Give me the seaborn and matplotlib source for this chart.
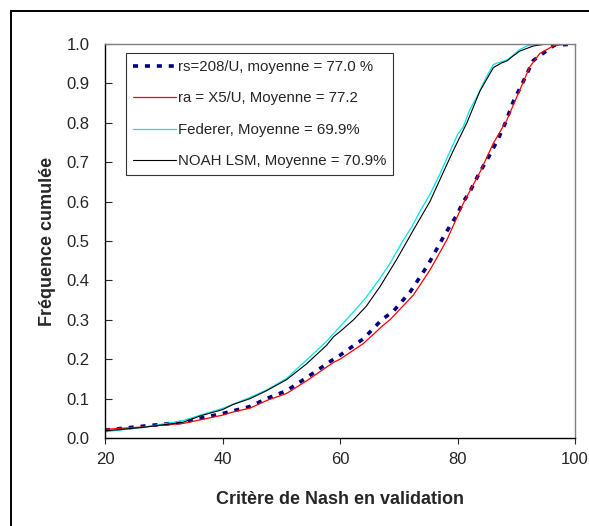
import matplotlib
matplotlib.use("Agg")
import matplotlib.pyplot as plt
import seaborn as sns
from matplotlib.patches import Rectangle

# ---- data ----
x_rs = [20, 26.5, 33.3, 36.2, 40, 44.7, 47.5, 50.9, 54.3, 58.9, 60, 64.0, 67.1, 69.1,
        72.0, 75.0, 77.6, 78.8, 79.9, 81.0, 82.1, 83.8, 85.0, 86.9, 88.1, 89.5, 91.2,
        92.9, 94.9, 96.5, 100]
y_rs = [0.02, 0.03, 0.04, 0.05, 0.062, 0.08, 0.1, 0.12, 0.153, 0.2, 0.21, 0.252, 0.30, 0.322,
        0.372, 0.44, 0.51, 0.54, 0.566, 0.60, 0.625, 0.675, 0.705, 0.758, 0.798, 0.854, 0.905,
        0.958, 0.98, 0.997, 1.0]

x_ra = [20, 26.5, 33.3, 36.2, 40, 41.8, 44.7, 47.5, 50.9, 54.3, 58.9, 60, 64.0, 67.4,
        68.5, 72.5, 75.3, 78.2, 81.0, 83.8, 86.1, 88.4, 90.6, 92.3, 94.0, 96.3, 98.6, 100]
y_ra = [0.022, 0.028, 0.037, 0.046, 0.058, 0.066, 0.076, 0.095, 0.113, 0.145, 0.192, 0.20,
        0.24, 0.287, 0.30, 0.363, 0.426, 0.503, 0.596, 0.674, 0.748, 0.807, 0.883, 0.942,
        0.976, 0.995, 1.0, 1.0]

x_fed = [20, 26.5, 33.3, 36.2, 40, 44.7, 47.5, 50.9, 54.3, 57.7, 60, 62.3, 64.5, 66.8,
         68.5, 70.8, 72.2, 73.6, 75.3, 77.0, 78.5, 80.0, 81.0, 82.0, 83.3, 84.7, 86.1,
         87.5, 88.5, 89.5, 90.5, 91.8, 93.5, 100]
y_fed = [0.016, 0.027, 0.044, 0.058, 0.075, 0.103, 0.122, 0.151, 0.198, 0.245, 0.283, 0.32,
         0.358, 0.405, 0.443, 0.503, 0.535, 0.575, 0.618, 0.67, 0.72, 0.77, 0.79, 0.83, 0.866,
         0.91, 0.948, 0.955, 0.96, 0.972, 0.985, 0.995, 1.0, 1.0]

x_noah = [20, 26.5, 33.3, 36.2, 40, 41.8, 44.7, 47.5, 50.9, 54.3, 57.7, 58.9, 60, 62.3,
          64.5, 66.8, 69.6, 72.5, 75.3, 77.6, 79.3, 81.6, 83.8, 86.1, 87.5, 88.4, 89.5,
          90.6, 92.9, 95.2, 100]
y_noah = [0.018, 0.027, 0.04, 0.056, 0.072, 0.085, 0.1, 0.12, 0.148, 0.188, 0.235, 0.257,
          0.27, 0.30, 0.335, 0.384, 0.452, 0.528, 0.60, 0.675, 0.73, 0.80, 0.88, 0.94, 0.952,
          0.957, 0.97, 0.982, 0.995, 1.0, 1.0]

labels = ["rs=208/U, moyenne = 77.0 %", "ra = X5/U, Moyenne = 77.2",
          "Federer, Moyenne = 69.9%", "NOAH LSM, Moyenne = 70.9%"]

sns.set_style("white")
plt.rcParams["font.family"] = ["Liberation Sans", "DejaVu Sans"]

fig = plt.figure(figsize=(5.89, 5.26), dpi=100)
ax = fig.add_axes([105/589, 1-438/526, 470/589, 394/526])

sns.lineplot(x=x_rs, y=y_rs, ax=ax, color="#000080", lw=2.6,
             linestyle=(0, (1.4, 1.9)), label=labels[0], sort=False, estimator=None)
sns.lineplot(x=x_ra, y=y_ra, ax=ax, color="#FF0000", lw=0.9, label=labels[1],
             sort=False, estimator=None)
sns.lineplot(x=x_fed, y=y_fed, ax=ax, color="#00E5EE", lw=0.9, label=labels[2],
             sort=False, estimator=None)
sns.lineplot(x=x_noah, y=y_noah, ax=ax, color="#000000", lw=0.8, label=labels[3],
             sort=False, estimator=None)

ax.set_xlim(20, 100)
ax.set_ylim(0, 1)
ax.set_xticks([20, 40, 60, 80, 100])
ax.set_yticks([i/10 for i in range(11)])
ax.set_yticklabels([f"{i/10:.1f}" for i in range(11)])
ax.tick_params(axis="y", direction="in", length=5, width=0.8, labelsize=12, pad=11, left=True)
ax.tick_params(axis="x", direction="out", length=4, width=0.8, labelsize=12, pad=6, bottom=True)

for s in ["left", "bottom"]:
    ax.spines[s].set_color("black")
    ax.spines[s].set_linewidth(1.0)
for s in ["top", "right"]:
    ax.spines[s].set_color("#808080")
    ax.spines[s].set_linewidth(1.0)

ax.set_xlabel("Critère de Nash en validation", fontsize=13, fontweight="bold", labelpad=17)
ax.set_ylabel("Fréquence cumulée", fontsize=13, fontweight="bold", labelpad=7.5)

leg = ax.legend(loc="upper left", bbox_to_anchor=(0.045, 0.977), fontsize=10.8,
                frameon=True, fancybox=False, handlelength=2.87, labelspacing=1.17,
                handletextpad=0.15, borderpad=0.45, borderaxespad=0)
leg.get_frame().set_edgecolor("black")
leg.get_frame().set_linewidth(0.8)

# chart-area border (cut off at the right and bottom like in the reference)
fig.patches.append(Rectangle((11/589, -0.2), 1.0, 1.2 - 11/526, transform=fig.transFigure,
                             fill=False, edgecolor="black", lw=1.4))

fig.savefig("out.png", dpi=100)
